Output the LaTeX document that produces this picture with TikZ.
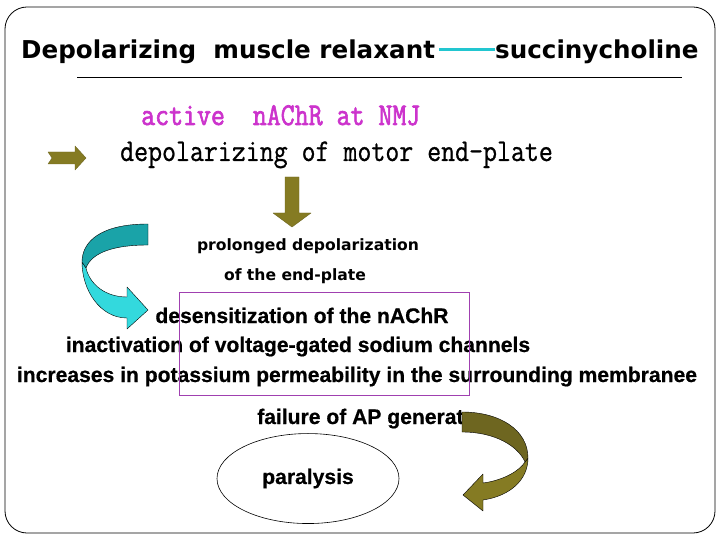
\documentclass[tikz,border=0pt]{standalone}
\usepackage{xcolor}
\usepackage{tikz}
\usepackage{fontspec}
\usepackage{graphicx}
\newfontfamily\headfont{DejaVu Sans}
\newfontfamily\bodyfont{Liberation Sans}[BoldFeatures={FakeBold=0.6}]
\newfontfamily\typefont{Latin Modern Mono}[FakeBold=0.8]
\newfontfamily\typefontbold{Latin Modern Mono}[FakeBold=2.2]
\definecolor{olv}{HTML}{857B23}
\definecolor{olvdark}{HTML}{6E6620}
\definecolor{tealbk}{HTML}{1AA3A8}
\definecolor{cyanfr}{HTML}{33D9DD}
\definecolor{mag}{HTML}{CC33CC}
\definecolor{boxpur}{HTML}{A040B0}
\definecolor{tealln}{HTML}{22C6D0}
\tikzset{
  headtxt/.style={anchor=base west, inner sep=0pt, font=\headfont\bfseries\fontsize{24.6}{28}\selectfont},
  typetxt/.style={anchor=base west, inner sep=0pt, font=\fontsize{27.1}{30}\selectfont},
  bodytxt/.style={anchor=base, inner sep=0pt, font=\bodyfont\bfseries\fontsize{21.1}{24}\selectfont},
  smalltxt/.style={anchor=base, inner sep=0pt, font=\headfont\bfseries\fontsize{15.6}{18}\selectfont},
  blockarr/.style={draw=black, line width=0.4pt, line join=round}
}

\begin{document}
\begin{tikzpicture}[x=1pt, y=-1pt]
  \useasboundingbox (0,0) rectangle (720,540);
  % Frame
  \draw[line width=0.8pt, rounded corners=22pt] (5,7) rectangle (715,533);
  % Title
  \node[headtxt] (drug) at (21,59) {Depolarizing\ \ muscle relaxant};
  \node[headtxt] (succ) at (495,59) {succinycholine};
  \draw[tealln, line width=3pt] (drug.base east) ++(4,-9) coordinate (dash) -- (succ.base west |- dash);
  \draw[line width=0.6pt] (77,77) -- (682,77);
  % Receptor line
  \node[typetxt, mag] (achr) at (141,125) {\scalebox{1}[1.17]{\typefontbold active\ \ nAChR at NMJ}};
  \node[typetxt] (endplate) at (120,161) {\scalebox{1}[1.17]{\typefont depolarizing of motor end-plate}};
  % Small notched arrow
  \filldraw[blockarr, fill=olv, draw=olvdark] (48,152) -- (75,152) -- (75,146) -- (86,158)
    -- (75,170) -- (75,164) -- (48,164) -- (52,158) -- cycle;
  % Down arrow
  \filldraw[blockarr, fill=olv, draw=olvdark] (285,177) -- (299,177) -- (299,213) -- (311,213)
    -- (292,227) -- (273,213) -- (285,213) -- cycle;
  % Prolonged depolarization
  \node[smalltxt] (prolong) at (308,251) {prolonged depolarization};
  \node[smalltxt] (endpl) at (295,280) {of the end-plate};
  % Curved cyan arrow
  \filldraw[blockarr, fill=cyanfr] (82,262) .. controls (82,290) and (100,318) .. (127,318)
    -- (127,329) -- (148,310) -- (127,287) -- (127,297)
    .. controls (106,297) and (90,285) .. (86,268) -- cycle;
  \filldraw[blockarr, fill=tealbk] (148,224) .. controls (100,224) and (82,242) .. (82,262)
    -- (86,268) .. controls (92,252) and (115,245) .. (148,245) -- cycle;
  % Effects
  \node[bodytxt] (desens) at (302,323) {desensitization of the nAChR};
  \node[bodytxt] (inact) at (298,352) {inactivation of voltage-gated sodium channels};
  \node[bodytxt] (perm) at (357,382) {increases in potassium permeability in the surrounding membranee};
  \draw[boxpur, line width=0.6pt] (179,292) rectangle (469,395);
  % Failure and paralysis
  \node[bodytxt, anchor=base west] (fail) at (257,424) {failure of AP generat};
  \node[bodytxt] (para) at (308,484) {paralysis};
  \draw[line width=0.6pt] (para) ellipse (91pt and 45pt);
  % Curved olive arrow
  \filldraw[blockarr, fill=olv] (528,458) .. controls (528,480) and (510,496) .. (483,500)
    -- (483,511) -- (463,495) -- (483,474) -- (483,483)
    .. controls (505,480) and (520,470) .. (525,462) -- cycle;
  \filldraw[blockarr, fill=olvdark] (462,412) .. controls (500,412) and (528,430) .. (528,458)
    -- (525,462) .. controls (518,446) and (495,432) .. (462,432) -- cycle;
\end{tikzpicture}
\end{document}
